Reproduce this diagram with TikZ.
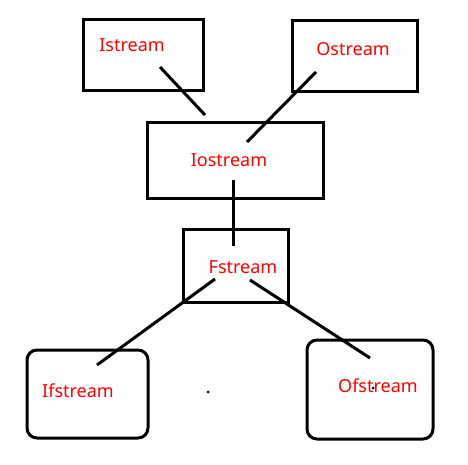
\documentclass[tikz,border=0pt]{standalone}
\usepackage{fontspec}
\setmainfont{Noto Sans}
\usepackage{tikz}
\tikzset{
    classbox/.style={draw=black, line width=3pt, inner sep=0pt, fill=none},
    roundbox/.style={classbox, rounded corners=10pt},
    classname/.style={text=red, font=\fontsize{18}{21}\selectfont, inner sep=0pt, anchor=center},
    link/.style={line width=3pt, line cap=butt}
}

\begin{document}
\begin{tikzpicture}[x=1pt, y=-1pt]
    \useasboundingbox (0,0) rectangle (468,465);
    % boxes
    \node [classbox, minimum width=120pt, minimum height=71pt] (istream) at (143,55.5) {};
    \node [classbox, minimum width=125pt, minimum height=71pt] (ostream) at (354.5,56.5) {};
    \node [classbox, minimum width=176pt, minimum height=75pt] (iostream) at (235,160.5) {};
    \node [classbox, minimum width=105pt, minimum height=73pt] (fstream) at (235.5,265.5) {};
    \node [roundbox, minimum width=121pt, minimum height=88pt] (ifstream) at (87.5,394) {};
    \node [roundbox, minimum width=126pt, minimum height=99pt] (ofstream) at (370,389.5) {};
    % class names
    \node [classname] (tistream) at (132,45) {Istream};
    \node [classname] (tostream) at (353,49) {Ostream};
    \node [classname] (tiostream) at (229,160) {Iostream};
    \node [classname] (tfstream) at (243,267) {Fstream};
    \node [classname] (tifstream) at (78,391) {Ifstream};
    \node [classname] (tofstream) at (378,386) {Ofstream};
    % line ends
    \coordinate (ia) at (160,67);
    \coordinate (ib) at (205,115);
    \coordinate (oa) at (316,72);
    \coordinate (ob) at (247,142);
    \coordinate (va) at (233,180);
    \coordinate (vb) at (233,246);
    \coordinate (fa) at (215,279);
    \coordinate (fb) at (97,365);
    \coordinate (ga) at (250,280);
    \coordinate (gb) at (370,358);
    % links
    \draw [link] (ia) -- (ib);
    \draw [link] (oa) -- (ob);
    \draw [link] (va) -- (vb);
    \draw [link] (fa) -- (fb);
    \draw [link] (ga) -- (gb);
    % stray dots
    \fill (208,392) circle (1.5pt);
    \fill (373,388) circle (1.5pt);
\end{tikzpicture}
\end{document}
